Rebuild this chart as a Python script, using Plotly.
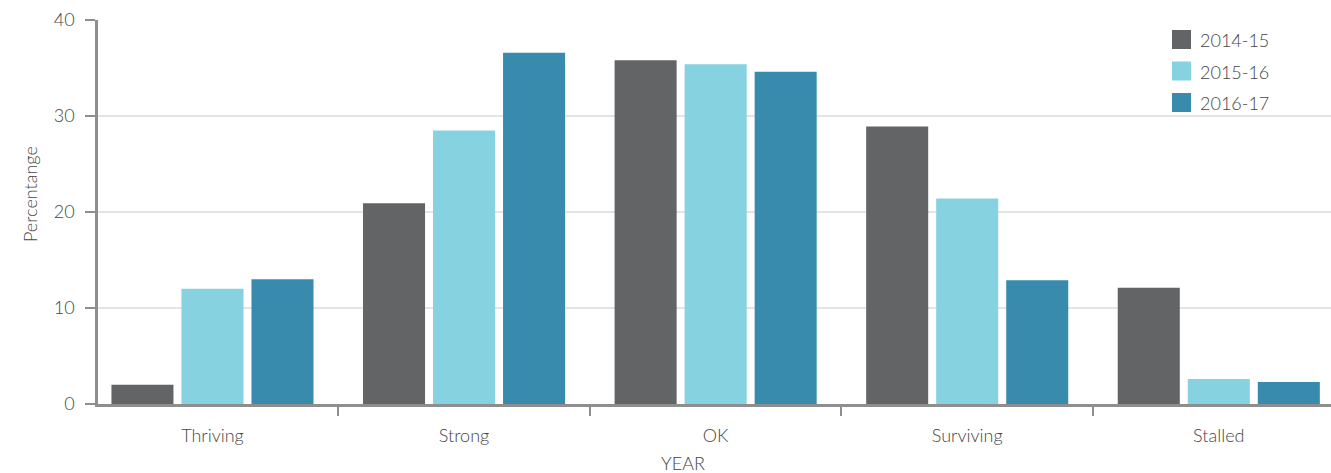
import plotly.graph_objects as go

categories = ["Thriving", "Strong", "OK", "Surviving", "Stalled"]
series_names = ["2014-15", "2015-16", "2016-17"]
values_2014_15 = [2.0, 20.9, 35.8, 28.9, 12.1]
values_2015_16 = [12.0, 28.5, 35.4, 21.4, 2.6]
values_2016_17 = [13.0, 36.6, 34.6, 12.9, 2.3]
y_ticks = [0, 10, 20, 30, 40]

colors = ["#636466", "#86D2E1", "#388BAC"]
all_values = [values_2014_15, values_2015_16, values_2016_17]

FONT = "Lato, 'Open Sans', sans-serif"
TXT = "#454545"
AX = "#8e8e8e"
WT = 300

fig = go.Figure()
for name, vals, col in zip(series_names, all_values, colors):
    fig.add_trace(go.Bar(x=categories, y=vals, name=name, marker=dict(color=col, line=dict(width=0)),
                         showlegend=False))

W, H = 1331, 473
L, R, T, B = 98, 0, 20, 69
pw, ph = W - L - R, H - T - B

def px_x(p):
    return (p - L) / pw

def px_y(p):
    return (H - B - p) / ph

shapes = []
annotations = []
row_centers = [39.5, 71, 102.5]
for name, col, cy in zip(series_names, colors, row_centers):
    shapes.append(dict(type="rect", xref="paper", yref="paper",
                       x0=px_x(1172), x1=px_x(1191), y0=px_y(cy + 9.5), y1=px_y(cy - 9.5),
                       fillcolor=col, line=dict(width=0), layer="above"))
    annotations.append(dict(xref="paper", yref="paper", x=px_x(1198), y=px_y(cy + 1), text=name,
                            showarrow=False, xanchor="left", yanchor="middle",
                            font=dict(family=FONT, size=18, color=TXT, weight=WT)))

annotations.append(dict(xref="paper", yref="paper", x=px_x(30), y=px_y(194), text="Percentange",
                        textangle=-90, showarrow=False, xanchor="center", yanchor="middle",
                        font=dict(family=FONT, size=18, color=TXT, weight=WT)))
annotations.append(dict(xref="paper", yref="paper", x=px_x(683), y=px_y(463), text="YEAR",
                        showarrow=False, xanchor="center", yanchor="middle",
                        font=dict(family=FONT, size=18, color=TXT, weight=WT)))

fig.update_layout(
    width=W, height=H,
    margin=dict(l=L, r=R, t=T, b=B, autoexpand=False),
    paper_bgcolor="white", plot_bgcolor="white",
    barmode="group", bargap=0.165, bargroupgap=0.114,
    font=dict(family=FONT, size=18, color=TXT, weight=WT),
    shapes=shapes, annotations=annotations,
    showlegend=False,
)
fig.update_xaxes(
    range=[-0.455, 4.446], showline=True, linecolor=AX, linewidth=2.5,
    ticks="outside", tickson="boundaries", ticklen=9, tickwidth=2, tickcolor=AX,
    tickfont=dict(family=FONT, size=18, color=TXT, weight=WT), showgrid=False, zeroline=False,
    ticklabelstandoff=14,
)
fig.update_yaxes(
    range=[0, 40], tickvals=y_ticks, showline=True, linecolor=AX, linewidth=2.5,
    ticks="outside", ticklen=10, tickwidth=2, tickcolor=AX,
    tickfont=dict(family=FONT, size=18, color=TXT, weight=WT),
    showgrid=True, gridcolor="#e4e4e4", gridwidth=2, zeroline=False,
    ticklabelstandoff=7,
)

fig.write_html("out.html", config={"displayModeBar": False})
